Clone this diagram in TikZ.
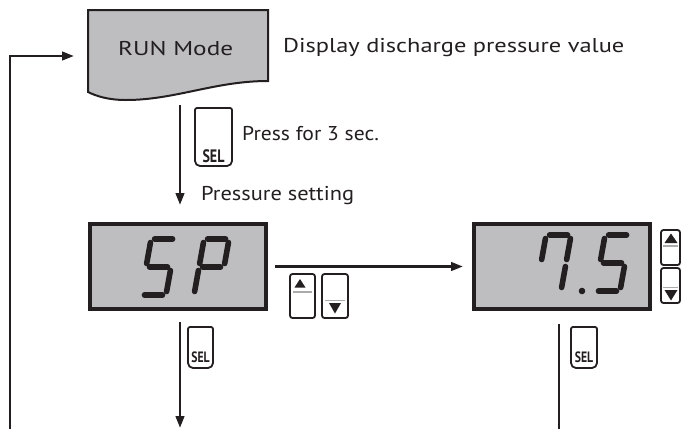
\documentclass[tikz,border=0pt]{standalone}
\usepackage{fontspec}
\setmainfont{PT Sans}
\usetikzlibrary{arrows.meta,calc}
\definecolor{ink}{RGB}{35,31,32}
\definecolor{lcd}{RGB}{190,190,192}
\definecolor{sepgray}{RGB}{170,170,172}
\tikzset{
  conn/.style={draw=ink,line width=2.6pt},
  arr/.style={conn,-{Triangle[length=12pt,width=8.5pt]}},
  lcdbox/.style={draw=ink,line width=3.6pt,fill=lcd,minimum width=176.4pt,minimum height=85.4pt,inner sep=0pt},
  seg/.style={draw=ink,line width=5.6pt,line cap=round},
  btn/.style={draw=ink,line width=1.8pt,fill=white},
  sepline/.style={draw=sepgray,line width=1.4pt},
  tri/.style={fill=ink},
  lbl/.style={font=\fontsize{20}{24}\selectfont,text=ink,inner sep=0pt,anchor=base west},
  seltxt/.style={text=ink,inner sep=0pt,anchor=base},
}
\newcommand\segA{\draw[seg] (3.5,56) -- (21.5,56);}
\newcommand\segB{\draw[seg] (25,52.5) -- (25,31.5);}
\newcommand\segC{\draw[seg] (25,24.5) -- (25,3.5);}
\newcommand\segD{\draw[seg] (3.5,0) -- (21.5,0);}
\newcommand\segE{\draw[seg] (0,24.5) -- (0,3.5);}
\newcommand\segF{\draw[seg] (0,52.5) -- (0,31.5);}
\newcommand\segG{\draw[seg] (3.5,28) -- (21.5,28);}
\newcommand\digitat[3]{\begin{scope}[shift={(#1,#2)},y=1pt,xslant=0.18]#3\end{scope}}
% name, x1, y1(top), x2, y2(bottom), font size, baseline offset
\newcommand\selbtn[7]{%
  \draw[btn] (#2,{(#3+#5)/2}) [rounded corners=2pt] -- (#2,#3) -- (#4,#3) -- (#4,{(#3+#5)/2}) [rounded corners=5pt] -- (#4,#5) -- (#2,#5) -- cycle;
  \node[seltxt,name=#1,font=\fontsize{#6}{#6}\selectfont\bfseries] at ({(#2+#4)/2},{#5-#7}) {\scalebox{0.78}[1]{SEL}};
}
\begin{document}
\begin{tikzpicture}[x=1pt,y=-1pt]
\useasboundingbox (0,0) rectangle (681,429);

% RUN mode box
\draw[ink,line width=2pt,fill=lcd] (88,10) -- (268,10) -- (268,81)
  .. controls (215,81) and (175,100) .. (126,100)
  .. controls (108,100) and (96,96) .. (88,92) -- cycle;
\node[lbl,name=run] at (118,55) {\scalebox{1.26}[1]{RUN Mode}};
\node[lbl,name=disp] at (283,52) {\scalebox{1.22}[1]{Display discharge pressure value}};
\node[lbl,name=press] at (242,140) {\scalebox{1.08}[1]{Press for 3 sec.}};
\node[lbl,name=pset] at (201,200) {\scalebox{1.12}[1]{Pressure setting}};

% LCD boxes
\node[lcdbox,name=sp] at (178,266.5) {};
\node[lcdbox,name=val] at (562,266.5) {};

% digits S P
\digitat{141}{295}{\segA\segF\segG\segC\segD}
\digitat{194}{295}{\segA\segB\segF\segG\segE}
% digits 7.5
\digitat{536}{291}{\segA\segB\segC\segF}
\fill[ink] (582,291) circle (3.3pt);
\digitat{595}{291}{\segA\segF\segG\segC\segD}

% connectors
\coordinate (loopstart) at (10,429);
\coordinate (runin) at (74,56);
\coordinate (runout) at (180,105);
\draw[arr] (loopstart) |- (runin);
\draw[arr] (runout) -- ($(sp.north)+(2,-17)$);
\draw[arr] ($(sp.east)+(7,0)$) -- ($(val.west)+(-9,0)$);
\coordinate (spout) at (180,428);
\draw[arr] ($(sp.south)+(2,11)$) -- (spout);
\coordinate (valout) at (559,429);
\draw[conn] ($(val.south)+(-3,13)$) -- (valout);

% SEL buttons
\selbtn{selrun}{195}{108}{232}{166}{18}{3.5}
\selbtn{selsp}{188}{327}{213}{368}{15}{5.5}
\selbtn{selval}{571}{327}{597}{368}{15}{5.5}

% up/down buttons between boxes
\draw[btn,rounded corners=2.5pt] (290,274) rectangle (315,318);
\draw[sepline] (293,292) -- (312,292);
\fill[tri] (294.5,287.5) -- (305.5,287.5) -- (300,279) -- cycle;
\draw[btn,rounded corners=2.5pt] (322,274) rectangle (348,318);
\draw[sepline] (325,300.5) -- (345,300.5);
\fill[tri] (329,303) -- (341,303) -- (335,313.5) -- cycle;

% up/down buttons at right
\draw[btn,rounded corners=2.5pt] (661,230) rectangle (680,265);
\draw[sepline] (663,246) -- (678,246);
\fill[tri] (664.5,243) -- (677.5,243) -- (671,233.5) -- cycle;
\draw[btn,rounded corners=2.5pt] (661,268) rectangle (680,303);
\draw[sepline] (663,287.5) -- (678,287.5);
\fill[tri] (664.5,290) -- (677.5,290) -- (671,300.5) -- cycle;
\end{tikzpicture}
\end{document}
